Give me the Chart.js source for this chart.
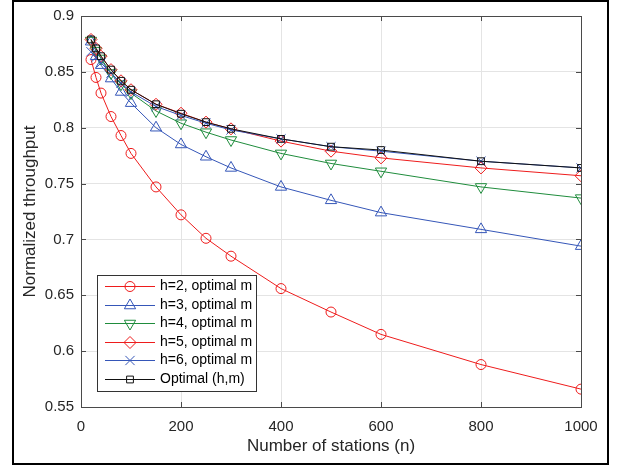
<!DOCTYPE html>
<html>
<head>
<meta charset="utf-8">
<script src="https://cdn.jsdelivr.net/npm/chart.js@4.4.1/dist/chart.umd.min.js"></script>
<style>
  body { margin: 0; background: #fff; }
  canvas { display: block; }
</style>
</head>
<body>
<canvas id="myChart" width="617" height="466"></canvas>
<script>
// number of stations (x axis)
var stations = [20, 30, 40, 60, 80, 100, 150, 200, 250, 300, 400, 500, 600, 800, 1000];

// normalized throughput per curve
var h2 = [0.861, 0.845, 0.831, 0.810, 0.793, 0.777, 0.747, 0.722, 0.701, 0.685, 0.656, 0.635, 0.615, 0.588, 0.566];
var h3 = [0.877, 0.864, 0.856, 0.844, 0.832, 0.822, 0.800, 0.785, 0.774, 0.764, 0.747, 0.735, 0.724, 0.709, 0.694];
var h4 = [0.878, 0.869, 0.862, 0.849, 0.839, 0.831, 0.815, 0.804, 0.796, 0.789, 0.777, 0.768, 0.761, 0.747, 0.737];
var h5 = [0.879, 0.871, 0.864, 0.852, 0.842, 0.834, 0.821, 0.813, 0.805, 0.799, 0.788, 0.779, 0.773, 0.764, 0.757];
var h6 = [0.868, 0.863, 0.858, 0.849, 0.840, 0.832, 0.819, 0.811, 0.804, 0.798, 0.790, 0.783, 0.779, 0.770, 0.764];
var optimal = [0.879, 0.871, 0.864, 0.852, 0.842, 0.834, 0.821, 0.8125, 0.805, 0.799, 0.790, 0.783, 0.780, 0.770, 0.764];

var labels = ['h=2, optimal m', 'h=3, optimal m', 'h=4, optimal m', 'h=5, optimal m', 'h=6, optimal m', 'Optimal (h,m)'];
var values = [h2, h3, h4, h5, h6, optimal];

var red = '#ee1c1c', blue = '#3556b8', green = '#1f8c3c', black = '#111111';
var styles = [
    { color: red,   point: 'circle',   rot: 0,   r: 5 },
    { color: blue,  point: 'triangle', rot: 0,   r: 6.5 },
    { color: green, point: 'triangle', rot: 180, r: 6.5 },
    { color: red,   point: 'rectRot',  rot: 0,   r: 6 },
    { color: blue,  point: 'crossRot', rot: 0,   r: 6.5 },
    { color: black, point: 'rect',     rot: 0,   r: 4.8 }
];

var axisColor = '#4a4a4a';
var textColor = '#262626';

Chart.defaults.font.family = '"Liberation Sans", Arial, sans-serif';
Chart.defaults.font.size = 15;
Chart.defaults.color = textColor;

var datasets = values.map(function (vals, i) {
    var s = styles[i];
    return {
        label: labels[i],
        data: stations.map(function (n, k) { return { x: n, y: vals[k] }; }),
        borderColor: s.color,
        borderWidth: 1,
        backgroundColor: 'rgba(0,0,0,0)',
        pointStyle: s.point,
        rotation: s.rot,
        pointRadius: s.r,
        pointBorderWidth: 1,
        pointBorderColor: s.color,
        pointBackgroundColor: 'rgba(0,0,0,0)',
        tension: 0,
        order: 6 - i
    };
});

// matlab style box, inward ticks, legend inside the axes, figure frame
var matlabBox = {
    id: 'matlabBox',
    afterDraw: function (chart) {
        var ctx = chart.ctx, a = chart.chartArea;
        var xs = chart.scales.x, ys = chart.scales.y;
        ctx.save();

        ctx.strokeStyle = axisColor;
        ctx.lineWidth = 1;
        ctx.strokeRect(a.left + 0.5, a.top + 0.5, a.right - a.left, a.bottom - a.top);

        ctx.beginPath();
        xs.ticks.forEach(function (t) {
            var px = Math.round(xs.getPixelForValue(t.value)) + 0.5;
            ctx.moveTo(px, a.bottom); ctx.lineTo(px, a.bottom - 5);
            ctx.moveTo(px, a.top); ctx.lineTo(px, a.top + 5);
        });
        ys.ticks.forEach(function (t) {
            var py = Math.round(ys.getPixelForValue(t.value)) + 0.5;
            ctx.moveTo(a.left, py); ctx.lineTo(a.left + 5, py);
            ctx.moveTo(a.right, py); ctx.lineTo(a.right - 5, py);
        });
        ctx.stroke();

        // legend
        var lx = 97, ly = 275, lw = 159, lh = 116;
        ctx.fillStyle = '#fff';
        ctx.fillRect(lx, ly, lw, lh);
        ctx.strokeStyle = '#333';
        ctx.strokeRect(lx + 0.5, ly + 0.5, lw, lh);
        ctx.font = '14px "Liberation Sans", Arial, sans-serif';
        ctx.textBaseline = 'middle';
        ctx.textAlign = 'left';
        labels.forEach(function (text, i) {
            var s = styles[i];
            var y = Math.round(ly + 11 + i * 18.6) + 0.5;
            ctx.strokeStyle = s.color;
            ctx.lineWidth = 1;
            ctx.beginPath();
            ctx.moveTo(105, y); ctx.lineTo(155, y);
            ctx.stroke();
            ctx.fillStyle = 'rgba(0,0,0,0)';
            Chart.helpers.drawPoint(ctx, {
                pointStyle: s.point, rotation: s.rot, radius: s.r, borderWidth: 1
            }, 130, y);
            ctx.fillStyle = '#000';
            ctx.fillText(text, 160, y);
        });

        ctx.strokeStyle = '#000';
        ctx.lineWidth = 2;
        ctx.strokeRect(13, 1, 595, 463);
        ctx.restore();
    }
};

var myChart = new Chart(document.getElementById('myChart').getContext('2d'), {
    type: 'line',
    data: { datasets: datasets },
    options: {
        responsive: false,
        animation: false,
        layout: { padding: { left: 14, right: 36, top: 15, bottom: 2 } },
        plugins: { legend: { display: false }, tooltip: { enabled: false } },
        scales: {
            x: {
                type: 'linear',
                min: 0, max: 1000,
                afterFit: function (s) { s.height = 57; },
                ticks: {
                    stepSize: 200, padding: 11, color: textColor, maxRotation: 0,
                    callback: function (v) { return String(v); }
                },
                grid: { color: '#e4e4e4', drawTicks: false },
                border: { color: axisColor },
                title: { display: true, text: 'Number of stations (n)', color: textColor,
                         font: { size: 17 }, padding: { top: 0, bottom: 7 } }
            },
            y: {
                min: 0.55, max: 0.9,
                afterFit: function (s) { s.width = 67; },
                ticks: {
                    stepSize: 0.05, padding: 7, color: textColor,
                    callback: function (v) { return String(+v.toFixed(2)); }
                },
                grid: { color: '#e4e4e4', drawTicks: false },
                border: { color: axisColor },
                title: { display: true, text: 'Normalized throughput', color: textColor,
                         font: { size: 17 }, padding: { top: 6, bottom: 0 } }
            }
        }
    },
    plugins: [matlabBox]
});
</script>
</body>
</html>
